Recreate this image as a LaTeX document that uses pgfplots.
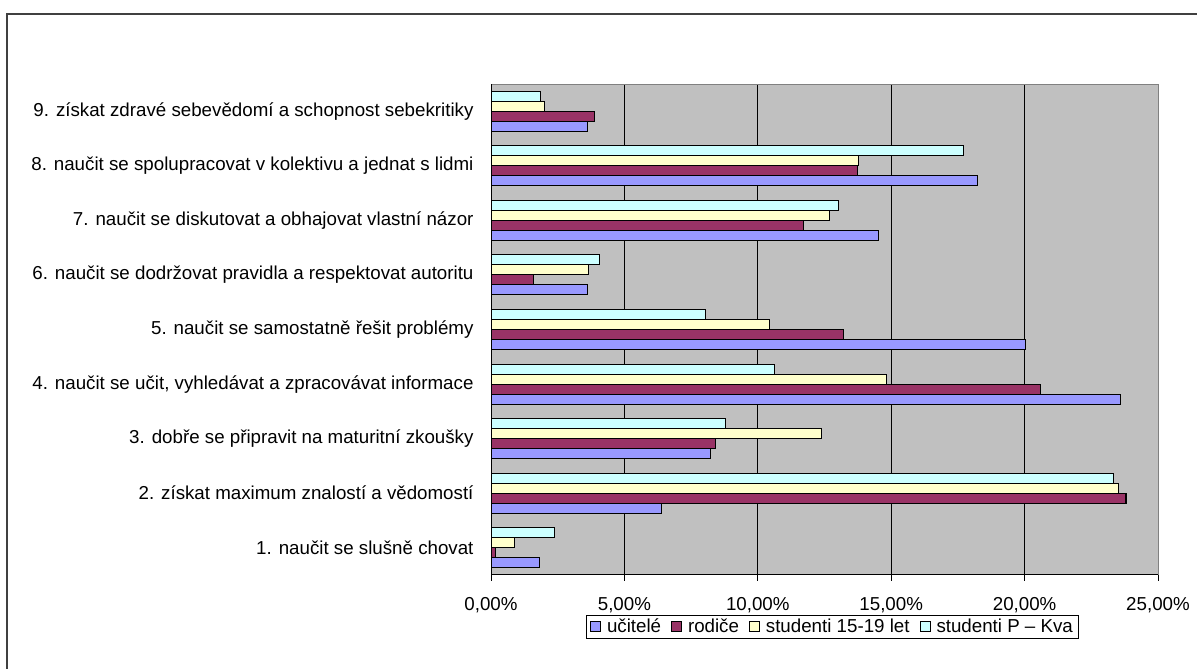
\documentclass[border=0pt]{standalone}
\usepackage{pgfplots}
\pgfplotsset{compat=1.18}
\usepackage{fontspec}
\setmainfont{Liberation Sans}
\definecolor{ucitele}{HTML}{9999FF}
\definecolor{rodice}{HTML}{993366}
\definecolor{stud}{HTML}{FFFFCC}
\definecolor{studpk}{HTML}{CCFFFF}
\definecolor{plotbg}{HTML}{C0C0C0}
\newcommand{\chfont}{\fontsize{18.8}{22}\selectfont}

\begin{document}
\begin{tikzpicture}
\useasboundingbox (0,0) rectangle (1197bp,669bp);
\draw[line width=1.6bp, black!75] (7bp,-20bp) -- (7bp,655bp) -- (1220bp,655bp);
\begin{axis}[
    at={(491bp,94bp)}, anchor=south west,
    scale only axis, width=667bp, height=491bp,
    xmin=0, xmax=25, ymin=0.5, ymax=9.5,
    xbar=0pt, bar width=10bp,
    axis background/.style={fill=plotbg},
    axis line style={draw=black!50, line width=1bp},
    xtick={0,5,...,25},
    xticklabels={{0,00\%},{5,00\%},{10,00\%},{15,00\%},{20,00\%},{25,00\%}},
    xtick pos=bottom, tick align=outside, major tick length=6bp,
    tick style={black, line width=0.8bp},
    xmajorgrids, grid style={black, line width=0.8bp},
    ytick={1,...,9},
    yticklabels={
        1. naučit se slušně chovat,
        2. získat maximum znalostí a vědomostí,
        3. dobře se připravit na maturitní zkoušky,
        {4. naučit se učit, vyhledávat a zpracovávat informace},
        5. naučit se samostatně řešit problémy,
        6. naučit se dodržovat pravidla a respektovat autoritu,
        7. naučit se diskutovat a obhajovat vlastní názor,
        8. naučit se spolupracovat v kolektivu a jednat s lidmi,
        9. získat zdravé sebevědomí a schopnost sebekritiky},
    major y tick style={draw=none},
    ytick pos=left,
    extra y ticks={0.5,1.5,...,9.5},
    extra y tick labels={},
    extra y tick style={grid=none, major tick length=6bp, tick style={black, draw=black}},
    yticklabel style={xshift=-8bp, font=\chfont},
    xticklabel style={yshift=-13bp, font=\chfont},
    every axis plot/.append style={draw=black, line width=1.1bp},
    legend style={at={(0.512,-0.081)}, anchor=north, legend columns=4,
        draw=black, line width=0.8bp, inner xsep=4bp, inner ysep=2bp, font=\chfont,
        /tikz/every odd column/.append style={column sep=4bp},
        /tikz/every even column/.append style={column sep=8bp}},
    legend image code/.code={\draw[#1, line width=0.9bp] (0bp,-5bp) rectangle (10bp,5bp);},
]
\addplot[fill=ucitele] coordinates {(1.81,1) (6.40,2) (8.22,3) (23.59,4) (20.03,5) (3.61,6) (14.52,7) (18.23,8) (3.61,9)};
\addplot[fill=rodice] coordinates {(0.18,1) (23.80,2) (8.42,3) (20.61,4) (13.21,5) (1.60,6) (11.72,7) (13.72,8) (3.89,9)};
\addplot[fill=stud] coordinates {(0.89,1) (23.52,2) (12.38,3) (14.84,4) (10.43,5) (3.67,6) (12.69,7) (13.79,8) (1.99,9)};
\addplot[fill=studpk] coordinates {(2.39,1) (23.33,2) (8.79,3) (10.62,4) (8.03,5) (4.07,6) (13.02,7) (17.70,8) (1.86,9)};
\legend{učitelé, rodiče, studenti 15-19 let, studenti P – Kva}
\draw[black, line width=1bp] (rel axis cs:0,1) -- (rel axis cs:0,0) -- (rel axis cs:1,0);
\end{axis}
\end{tikzpicture}
\end{document}
